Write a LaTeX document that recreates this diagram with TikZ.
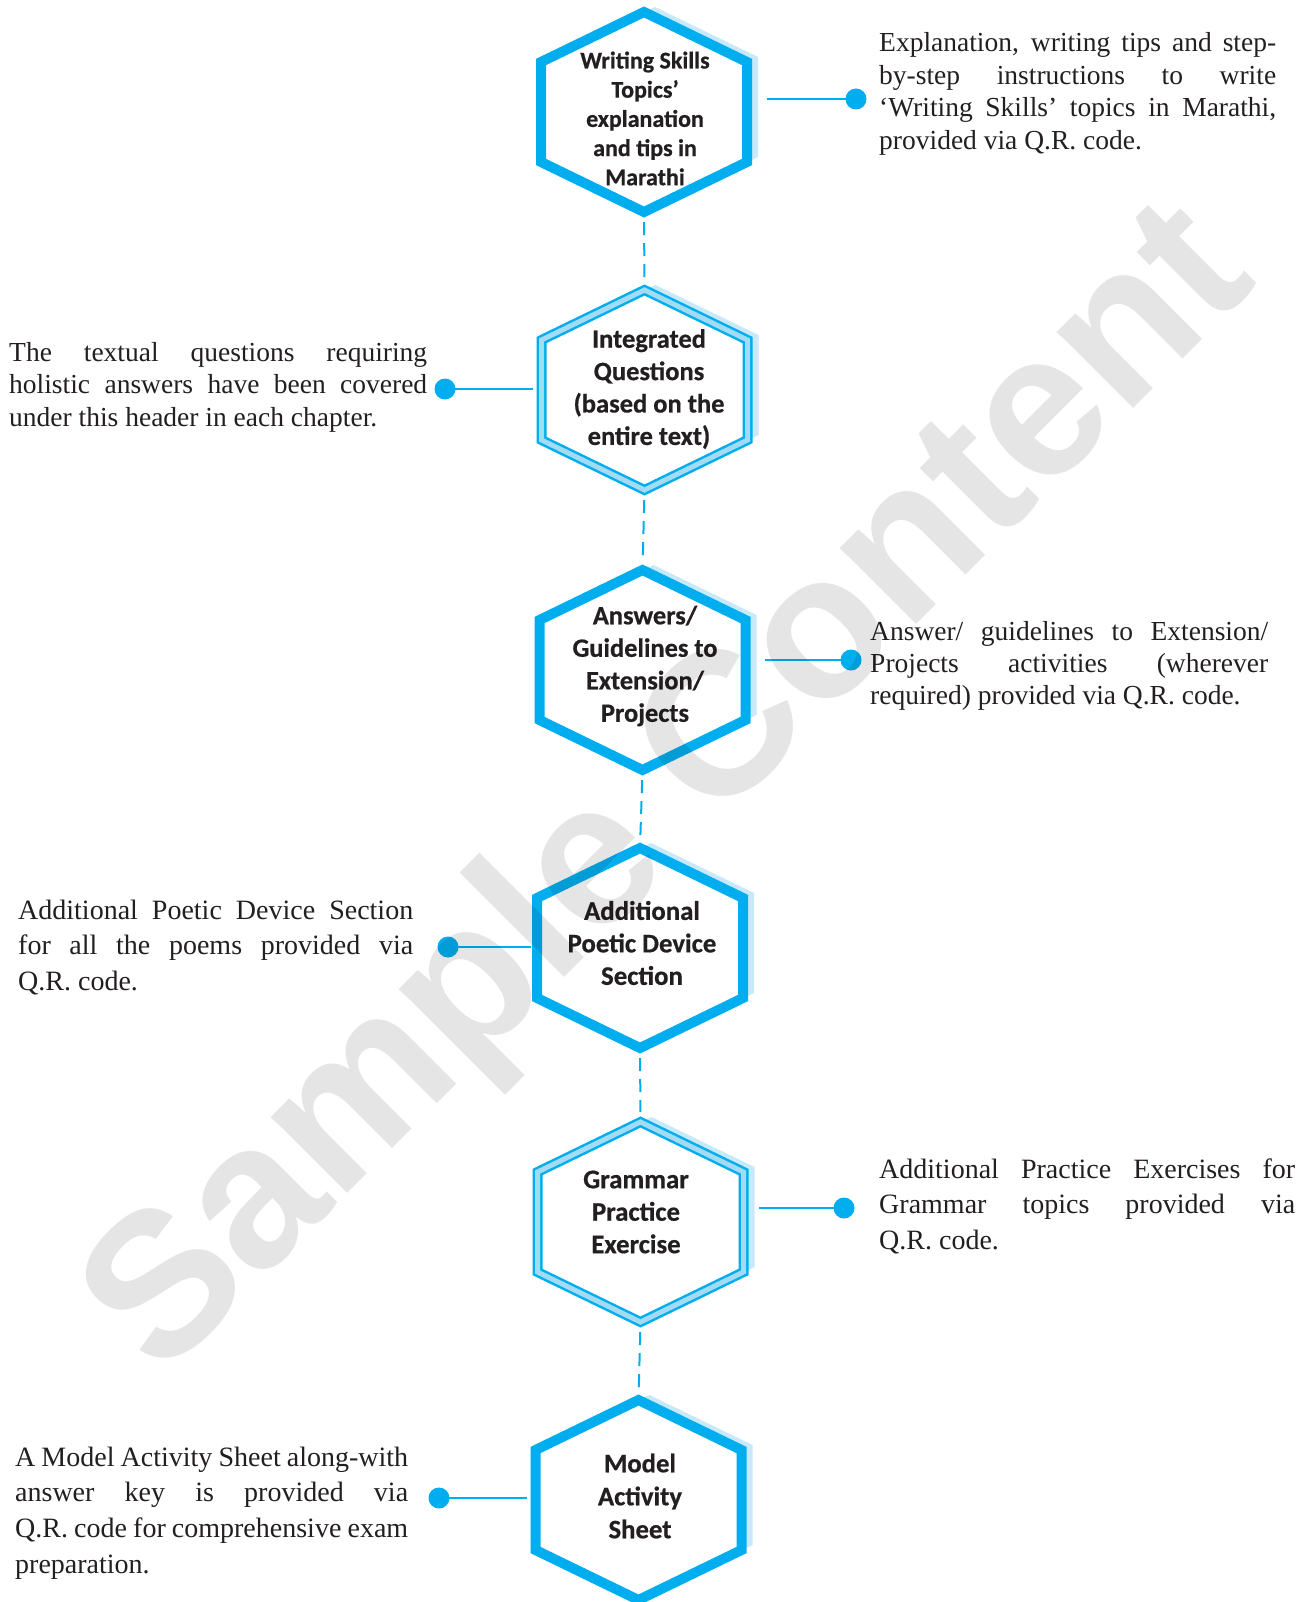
\documentclass[tikz,border=0pt]{standalone}
\usepackage{fontspec}
\setmainfont{Liberation Serif}
\newfontfamily\hexfont{Carlito}[BoldFeatures={FakeBold=0.6}]
\newfontfamily\wmfont{Liberation Sans}
\usetikzlibrary{calc}
\definecolor{hexblue}{HTML}{00AEEF}
\definecolor{hexshadow}{HTML}{C8E9F9}
\definecolor{hexband}{HTML}{A3DBF5}
\definecolor{ink}{HTML}{231F20}
\newcommand\hexat[2]{(#1,#2-100) -- (#1+103,#2-50) -- (#1+103,#2+50) -- (#1,#2+100) -- (#1-103,#2+50) -- (#1-103,#2-50) -- cycle}
\newcommand\jl[1]{\makebox[\linewidth][s]{#1}}
\begin{document}
\begin{tikzpicture}[x=1pt,y=-1pt,
  hexbox/.style={rectangle,minimum width=206pt,minimum height=200pt,inner sep=0pt},
  hextext/.style 2 args={align=center,text=ink,inner sep=0pt,font=\hexfont\bfseries\fontsize{#1}{#2}\selectfont},
  thickhex/.style={fill=white,draw=hexblue,line width=10pt,line join=miter},
  bandhex/.style={draw=hexband,line width=5pt,line join=miter},
  shadowhex/.style={fill=hexshadow},
  desc/.style={anchor=base west,inner sep=0pt,text=ink},
  dot/.style={circle,fill=hexblue,minimum size=21pt,inner sep=0pt},
  conn/.style={draw=hexblue,line width=1.8pt},
  vlink/.style={draw=hexblue,line width=2pt,dash pattern=on 13pt off 8pt,shorten <=10pt,shorten >=10pt}]
\useasboundingbox (0,0) rectangle (1312,1602);
\fill[white] (0,0) rectangle (1312,1602);

% shadows
\fill[shadowhex] \hexat{655}{107};
\fill[shadowhex] \hexat{655.5}{385};
\fill[shadowhex] \hexat{653.5}{665};
\fill[shadowhex] \hexat{651}{943};
\fill[shadowhex] \hexat{651.5}{1217};
\fill[shadowhex] \hexat{649.5}{1495};

% hexagons
\path[thickhex] \hexat{644}{112};
\path[thickhex] \hexat{644.5}{390};
\path[bandhex] \hexat{644.5}{390};
\path[thickhex] \hexat{642.5}{670};
\path[thickhex] \hexat{640}{948};
\path[thickhex] \hexat{640.5}{1222};
\path[bandhex] \hexat{640.5}{1222};
\path[thickhex] \hexat{638.5}{1500};

% hexagon anchor boxes
\node[hexbox] (h1) at (644,112) {};
\node[hexbox] (h2) at (644.5,390) {};
\node[hexbox] (h3) at (642.5,670) {};
\node[hexbox] (h4) at (640,948) {};
\node[hexbox] (h5) at (640.5,1222) {};
\node[hexbox] (h6) at (638.5,1500) {};

% hexagon texts
\node[hextext={24}{29.2}] (t1) at (645,118.5) {Writing Skills\\Topics’\\explanation\\and tips in\\Marathi};
\node[hextext={26.5}{32.4}] (t2) at (649,389) {Integrated\\Questions\\(based on the\\entire text)};
\node[hextext={26.4}{32.5}] (t3) at (645,666) {Answers/\\Guidelines to\\Extension/\\Projects};
\node[hextext={26.8}{32.5}] (t4) at (642,943) {Additional\\Poetic Device\\Section};
\node[hextext={26.8}{32.5}] (t5) at (636,1212) {Grammar\\Practice\\Exercise};
\node[hextext={26.7}{33}] (t6) at (640,1496) {Model\\Activity\\Sheet};

% vertical dashed links
\draw[vlink] (h1.south) -- (h2.north);
\draw[vlink] (h2.south) -- (h3.north);
\draw[vlink] (h3.south) -- (h4.north);
\draw[vlink] (h4.south) -- (h5.north);
\draw[vlink] (h5.south) -- (h6.north);

% dots
\node[dot] (d1) at (856,99) {};
\node[dot] (d2) at (445,389) {};
\node[dot] (d3) at (851,660) {};
\node[dot] (d4) at (448,947) {};
\node[dot] (d5) at (844,1208) {};
\node[dot] (d6) at (439,1498) {};

\draw[conn] (d1.center) -- ($(h1.east |- d1)+(20,0)$);
\draw[conn] (d2.center) -- ($(h2.west |- d2)+(-8,0)$);
\draw[conn] (d3.center) -- ($(h3.east |- d3)+(19,0)$);
\draw[conn] (d4.center) -- ($(h4.west |- d4)+(-6,0)$);
\draw[conn] (d5.center) -- ($(h5.east |- d5)+(15,0)$);
\draw[conn] (d6.center) -- ($(h6.west |- d6)+(-8,0)$);

% descriptions
\node[desc,font=\fontsize{27.5}{32.4}\selectfont] (p1) at (879,52) {\parbox[t]{397pt}{%
\jl{Explanation, writing tips and step-}\\
\jl{by-step instructions to write}\\
\jl{‘Writing Skills’ topics in Marathi,}\\
provided via Q.R. code.}};
\node[desc,font=\fontsize{27.5}{32.4}\selectfont] (p2) at (9,361.5) {\parbox[t]{418pt}{%
\jl{The textual questions requiring}\\
\jl{holistic answers have been covered}\\
under this header in each chapter.}};
\node[desc,font=\fontsize{27.5}{32.4}\selectfont] (p3) at (870,640) {\parbox[t]{398pt}{%
\jl{Answer/ guidelines to Extension/}\\
\jl{Projects activities (wherever}\\
required) provided via Q.R. code.}};
\node[desc,font=\fontsize{28}{35.8}\selectfont] (p4) at (18,919) {\parbox[t]{395pt}{%
\jl{Additional Poetic Device Section}\\
\jl{for all the poems provided via}\\
Q.R. code.}};
\node[desc,font=\fontsize{28}{35.8}\selectfont] (p5) at (879,1178) {\parbox[t]{416pt}{%
\jl{Additional Practice Exercises for}\\
\jl{Grammar topics provided via}\\
Q.R. code.}};
\node[desc,font=\fontsize{28}{35.8}\selectfont] (p6) at (15,1466) {\parbox[t]{393pt}{%
\jl{A Model Activity Sheet along-with}\\
\jl{answer key is provided via}\\
\jl{Q.R. code for comprehensive exam}\\
preparation.}};

% watermark
\node[rotate=45,text=black,opacity=0.1,font=\wmfont\bfseries\fontsize{204}{204}\selectfont,inner sep=0pt] (wm) at (673,794) {Sample Content};
\end{tikzpicture}
\end{document}
